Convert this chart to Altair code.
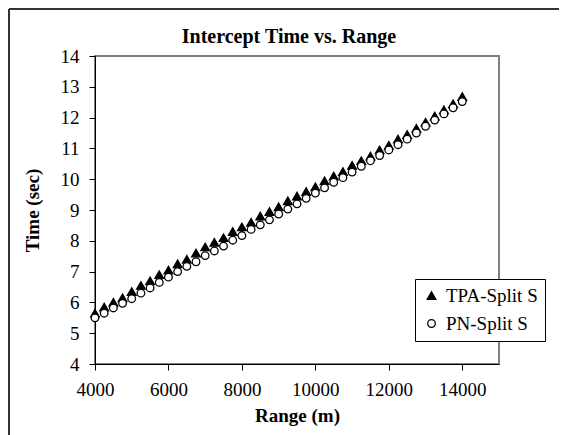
import altair as alt
import pandas as pd

ranges = [4000 + 250 * i for i in range(41)]
tpa = [5.65, 5.85, 6.00, 6.15, 6.35, 6.55, 6.70, 6.90, 7.05, 7.25,
       7.40, 7.60, 7.80, 7.95, 8.10, 8.30, 8.45, 8.60, 8.80, 8.95,
       9.10, 9.30, 9.45, 9.60, 9.75, 9.95, 10.10, 10.25, 10.45, 10.60,
       10.75, 10.95, 11.10, 11.30, 11.45, 11.65, 11.85, 12.05, 12.25, 12.45,
       12.68]
pn = [5.50, 5.65, 5.82, 5.97, 6.12, 6.30, 6.47, 6.65, 6.82, 7.00,
      7.17, 7.32, 7.52, 7.67, 7.83, 8.02, 8.17, 8.37, 8.52, 8.68,
      8.87, 9.03, 9.20, 9.38, 9.55, 9.72, 9.90, 10.05, 10.23, 10.42,
      10.60, 10.77, 10.95, 11.12, 11.30, 11.50, 11.72, 11.92, 12.12, 12.32,
      12.52]
series_names = ["TPA-Split S", "PN-Split S"]
x_ticks = [4000, 6000, 8000, 10000, 12000, 14000]
y_ticks = [4, 5, 6, 7, 8, 9, 10, 11, 12, 13, 14]

df = pd.DataFrame({
    "Range": ranges + ranges,
    "Time": tpa + pn,
    "Series": [series_names[0]] * len(tpa) + [series_names[1]] * len(pn),
})

FONT = "Liberation Serif, Times New Roman, serif"

legend_props = dict(
    title=None, labelFont=FONT, labelFontSize=19, labelColor="black",
    symbolStrokeColor="black", symbolStrokeWidth=1.3,
)

points = alt.Chart(df).mark_point(
    filled=False, strokeWidth=1.3, opacity=1
).encode(
    x=alt.X("Range:Q", scale=alt.Scale(domain=[4000, 15000], nice=False, zero=False),
            axis=alt.Axis(values=x_ticks, format="d", title="Range (m)", grid=False,
                          labelFlush=False, labelFont=FONT, titleFont=FONT,
                          labelPadding=10, titlePadding=7)),
    y=alt.Y("Time:Q", scale=alt.Scale(domain=[4, 14], nice=False, zero=False),
            axis=alt.Axis(values=y_ticks, title="Time (sec)", grid=False,
                          labelFlush=False, labelFont=FONT, titleFont=FONT,
                          labelPadding=10, titlePadding=18)),
    shape=alt.Shape("Series:N", scale=alt.Scale(domain=series_names, range=["triangle-up", "circle"]),
                    legend=alt.Legend(**legend_props)),
    fill=alt.Fill("Series:N", scale=alt.Scale(domain=series_names, range=["black", "white"]),
                  legend=alt.Legend(**legend_props)),
    stroke=alt.Stroke("Series:N", scale=alt.Scale(domain=series_names, range=["black", "black"]),
                      legend=alt.Legend(**legend_props)),
    size=alt.Size("Series:N", scale=alt.Scale(domain=series_names, range=[75, 58]),
                  legend=alt.Legend(**legend_props)),
    order=alt.Order("Series:N", sort="descending"),
)

border_left = alt.Chart(pd.DataFrame({"a": [0]})).mark_rule(
    color="#333333", strokeWidth=2, clip=False
).encode(x=alt.value(-86), y=alt.value(-47), y2=alt.value(400))

border_top = alt.Chart(pd.DataFrame({"a": [0]})).mark_rule(
    color="#333333", strokeWidth=2, clip=False
).encode(x=alt.value(-86), x2=alt.value(500), y=alt.value(-47))

chart = alt.layer(points, border_left, border_top).properties(
    width=404,
    height=308,
    autosize=alt.AutoSizeParams(type="none"),
    padding={"left": 87, "top": 48, "right": 60, "bottom": 71},
    title=alt.TitleParams("Intercept Time vs. Range", font=FONT, fontSize=20,
                          fontWeight="bold", color="black", offset=-39, dx=-8),
).configure(
    font=FONT
).configure_view(
    stroke="#808080", strokeWidth=2
).configure_axis(
    labelFont=FONT, labelFontSize=19, labelColor="black",
    titleFont=FONT, titleFontSize=19, titleFontWeight="bold", titleColor="black",
    domainColor="black", domainWidth=1, tickColor="black", tickSize=6,
).configure_legend(
    orient="none", legendX=320, legendY=223,
    fillColor="white", strokeColor="black", padding=7,
    labelFont=FONT, labelFontSize=19, labelColor="black",
    symbolStrokeColor="black", symbolStrokeWidth=1.3,
    rowPadding=8, labelOffset=5,
)

chart.save("out.html", embed_options={"renderer": "svg", "actions": False})
